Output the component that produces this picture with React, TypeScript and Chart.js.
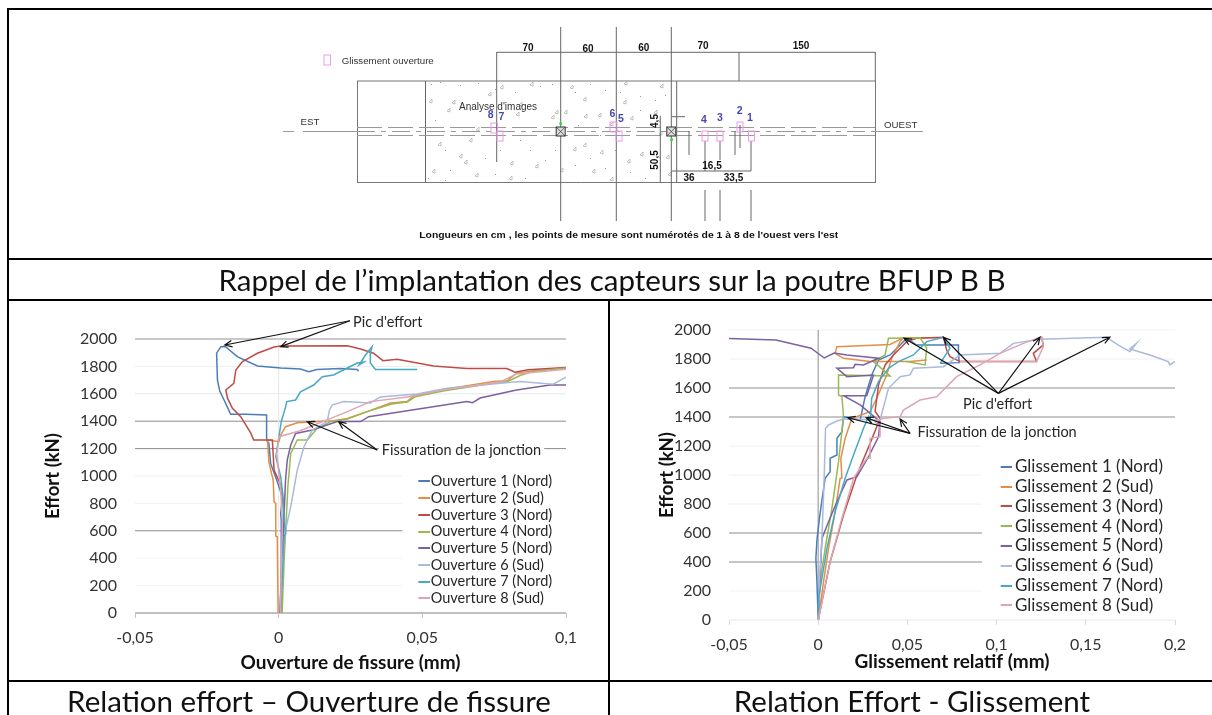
import React, { useEffect, useRef } from "react";
import { Chart, registerables } from "chart.js";

Chart.register(...registerables);

type Pt = [number, number];

const FONT = "Lato";
const seriesColors = ["#4A7EBB", "#E48E4A", "#BE4B48", "#98B954", "#7D60A0", "#A9BADB", "#46AAC4", "#DDA6B2"];

const yTicks = [0, 200, 400, 600, 800, 1000, 1200, 1400, 1600, 1800, 2000];

const ouvertureNames = ["Ouverture 1 (Nord)", "Ouverture 2 (Sud)", "Ouverture 3 (Nord)", "Ouverture 4 (Nord)", "Ouverture 5 (Nord)", "Ouverture 6 (Sud)", "Ouverture 7 (Nord)", "Ouverture 8 (Sud)"];
const glissementNames = ["Glissement 1 (Nord)", "Glissement 2 (Sud)", "Glissement 3 (Nord)", "Glissement 4 (Nord)", "Glissement 5 (Nord)", "Glissement 6 (Sud)", "Glissement 7 (Nord)", "Glissement 8 (Sud)"];

const ouverture1: Pt[] = [[0.0005, 0], [0.0009, 314], [0.0009, 679], [0.0007, 720], [0.0013, 849], [-0.0007, 971], [-0.0028, 1092], [-0.0034, 1238], [-0.0042, 1260], [-0.0042, 1420], [-0.0042, 1445], [-0.0115, 1450], [-0.0167, 1450], [-0.019, 1555], [-0.0205, 1620], [-0.0213, 1700], [-0.0216, 1897], [-0.0201, 1944], [-0.0186, 1945], [-0.0144, 1871], [-0.0074, 1803], [0.0007, 1788], [0.0076, 1781], [0.0105, 1761], [0.0133, 1777], [0.0215, 1785], [0.0273, 1777], [0.0278, 1765]];
const ouverture2: Pt[] = [[-0.0002, 0], [-0.0005, 557], [-0.001, 560], [-0.001, 800], [-0.0016, 813], [-0.0019, 971], [-0.0025, 1019], [-0.0034, 1105], [-0.0039, 1263], [0.0001, 1250], [0.0007, 1299], [0.0024, 1360], [0.0065, 1389], [0.0191, 1404], [0.0239, 1420], [0.0308, 1470], [0.0389, 1533], [0.0447, 1543], [0.0469, 1584], [0.0563, 1628], [0.0747, 1689], [0.0795, 1695], [0.0828, 1751], [0.0887, 1769], [0.1, 1788]];
const ouverture3: Pt[] = [[0.0007, 0], [0.0013, 435], [0.0019, 679], [0.0013, 886], [0.0005, 946], [-0.0016, 1044], [-0.0022, 1263], [-0.0087, 1262], [-0.0097, 1313], [-0.0132, 1433], [-0.0161, 1494], [-0.0178, 1568], [-0.0184, 1628], [-0.0156, 1677], [-0.0149, 1774], [-0.0126, 1835], [-0.0074, 1896], [-0.0016, 1942], [0.0007, 1949], [0.0239, 1950], [0.0285, 1927], [0.033, 1896], [0.0363, 1842], [0.0412, 1852], [0.0539, 1803], [0.0655, 1785], [0.0794, 1785], [0.0823, 1757], [0.0868, 1775], [0.1, 1792]];
const ouverture4: Pt[] = [[0.0012, 0], [0.0019, 387], [0.0024, 581], [0.0032, 922], [0.0042, 1165], [0.0065, 1263], [0.01, 1263], [0.0134, 1348], [0.0181, 1397], [0.0239, 1416], [0.0308, 1470], [0.0394, 1525], [0.0447, 1540], [0.0475, 1578], [0.0572, 1620], [0.0757, 1680], [0.0795, 1688], [0.0842, 1735], [0.0887, 1765], [0.1, 1788]];
const ouverture5: Pt[] = [[0.0005, 0], [0.0009, 265], [0.0016, 581], [0.0021, 825], [0.0024, 971], [0.003, 1117], [0.0042, 1226], [0.0059, 1311], [0.0117, 1336], [0.0204, 1397], [0.0285, 1397], [0.0313, 1433], [0.0655, 1543], [0.0675, 1535], [0.0701, 1569], [0.0828, 1628], [0.0944, 1664], [0.1, 1664]];
const ouverture6: Pt[] = [[0.0007, 217], [0.0024, 606], [0.0042, 776], [0.0065, 1044], [0.0088, 1214], [0.0117, 1336], [0.0169, 1397], [0.0177, 1482], [0.0186, 1518], [0.0226, 1543], [0.0319, 1533], [0.0354, 1577], [0.0482, 1599], [0.0586, 1640], [0.0771, 1677], [0.084, 1689], [0.0955, 1670], [0.1, 1722]];
const ouverture7: Pt[] = [[0.0007, 0], [0.0019, 557], [0.0024, 581], [0.0019, 703], [0.0013, 886], [0.0007, 995], [-0.001, 1141], [0.0001, 1287], [0.0009, 1397], [0.0024, 1503], [0.0028, 1543], [0.0059, 1555], [0.0076, 1615], [0.0122, 1664], [0.0152, 1725], [0.0191, 1737], [0.0239, 1788], [0.0273, 1825], [0.0297, 1832], [0.028, 1810], [0.0302, 1883], [0.0325, 1944], [0.0319, 1896], [0.0319, 1825], [0.0337, 1777], [0.0482, 1777]];
const ouverture8: Pt[] = [[0.0006, 0], [0.0009, 314], [0.0013, 679], [0.0007, 898], [-0.0007, 1165], [0.0001, 1287], [0.0075, 1330], [0.0181, 1421], [0.0239, 1470], [0.0319, 1543], [0.0447, 1577], [0.0563, 1625], [0.0771, 1686], [0.0828, 1745], [0.1, 1780]];

const glissement1: Pt[] = [[0, 0], [-0.0007, 264], [-0.0013, 425], [-0.0007, 552], [0.0007, 701], [0.0021, 828], [0.0039, 977], [0.0067, 1023], [0.0067, 1115], [0.0105, 1138], [0.0105, 1253], [0.0133, 1299], [0.0142, 1402], [0.0235, 1379], [0.0263, 1540], [0.03, 1690], [0.0338, 1793], [0.0403, 1828], [0.0459, 1897], [0.0496, 1943], [0.055, 1897], [0.0786, 1897], [0.0786, 1850], [0.079, 1775], [0.0683, 1770]];
const glissement2: Pt[] = [[0, 0], [0.003, 264], [0.0058, 494], [0.0095, 747], [0.0123, 977], [0.0133, 977], [0.0127, 1115], [0.0151, 1253], [0.0189, 1391], [0.0291, 1437], [0.0328, 1529], [0.0384, 1690], [0.0412, 1805], [0.0459, 1920], [0.0478, 1947], [0.0674, 1947], [0.0478, 1947], [0.0403, 1900], [0.0105, 1885], [0.0095, 1839], [0.0142, 1805], [0.0291, 1782], [0.0515, 1782], [0.0608, 1793]];
const glissement3: Pt[] = [[0, 0], [0.0067, 402], [0.0142, 724], [0.0217, 1000], [0.0291, 1218], [0.0347, 1391], [0.0319, 1440], [0.0338, 1621], [0.0375, 1759], [0.0422, 1828], [0.0496, 1920], [0.0552, 1943], [0.0702, 1950], [0.072, 1862], [0.0739, 1816], [0.0795, 1782], [0.1224, 1782], [0.1206, 1839], [0.1262, 1897], [0.1252, 1950]];
const glissement4: Pt[] = [[0, 0], [0.0011, 264], [0.0039, 494], [0.0077, 770], [0.0114, 1092], [0.0142, 1402], [0.0133, 1540], [0.0114, 1552], [0.0114, 1690], [0.0403, 1683], [0.031, 1782], [0.0375, 1828], [0.0394, 1943], [0.0571, 1947], [0.0608, 1874], [0.0599, 1759], [0.0496, 1782]];
const glissement5: Pt[] = [[0, 34], [0.0021, 563], [0.0058, 678], [0.0105, 816], [0.0161, 966], [0.0217, 989], [0.0282, 1126], [0.0338, 1264], [0.0347, 1368], [0.0235, 1483], [0.0142, 1547], [0.0272, 1547], [0.031, 1690], [0.0161, 1678], [0.0105, 1736], [0.0198, 1740], [0.0207, 1763], [0.0254, 1759], [0.0338, 1805], [0.0161, 1828], [0.009, 1841], [0.0034, 1807], [-0.004, 1874], [-0.0237, 1931], [-0.05, 1942]];
const glissement6: Pt[] = [[0, 0], [0.0007, 264], [0.0021, 563], [0.0034, 1000], [0.0041, 1322], [0.0058, 1345], [0.0105, 1372], [0.0142, 1386], [0.0347, 1379], [0.0394, 1598], [0.0459, 1678], [0.0515, 1690], [0.0534, 1736], [0.0702, 1747], [0.0795, 1828], [0.1019, 1839], [0.1094, 1908], [0.1243, 1936], [0.1616, 1950], [0.168, 1897], [0.1747, 1851], [0.1784, 1908], [0.1747, 1870], [0.1859, 1828], [0.1962, 1782], [0.1971, 1759], [0.1999, 1782]];
const glissement7: Pt[] = [[0, 0], [0.0002, 150], [0.0049, 494], [0.0095, 747], [0.0151, 977], [0.0198, 1138], [0.0254, 1322], [0.0282, 1402], [0.0291, 1368], [0.03, 1529], [0.0338, 1644], [0.0394, 1736], [0.045, 1782], [0.0534, 1828], [0.0608, 1920], [0.0702, 1950], [0.0739, 1874], [0.0683, 1770]];
const glissement8: Pt[] = [[0, 0], [0.0067, 402], [0.0133, 701], [0.0198, 977], [0.0272, 1115], [0.0291, 1115], [0.0291, 1253], [0.0347, 1264], [0.0347, 1322], [0.0319, 1368], [0.0366, 1391], [0.0459, 1402], [0.0478, 1448], [0.0571, 1517], [0.0664, 1540], [0.0776, 1678], [0.0907, 1759], [0.1019, 1839], [0.115, 1908], [0.1252, 1954], [0.1262, 1885], [0.1224, 1782], [0.0795, 1782]];

const ouvertureSeries = [ouverture1, ouverture2, ouverture3, ouverture4, ouverture5, ouverture6, ouverture7, ouverture8];
const glissementSeries = [glissement1, glissement2, glissement3, glissement4, glissement5, glissement6, glissement7, glissement8];

type Note = { text: string; at: Pt; from: Pt; to: Pt[] };
const ouvertureNotes: Note[] = [
  { text: "Pic d'effort", at: [0.0259, 2125], from: [0.0248, 2133], to: [[-0.01875, 1956], [0.0007, 1944]] },
  { text: "Fissuration de la jonction", at: [0.0359, 1184], from: [0.0343, 1190], to: [[0.00997, 1396], [0.0209, 1396]] },
];
const glissementNotes: Note[] = [
  { text: "Pic d'effort", at: [0.0812, 1487], from: [0.101, 1563], to: [[0.04815, 1943], [0.07016, 1950], [0.1243, 1950], [0.1635, 1950]] },
  { text: "Fissuration de la jonction", at: [0.0556, 1295], from: [0.0515, 1287], to: [[0.01663, 1395], [0.02688, 1395], [0.0459, 1386]] },
];

type Rule = [number, string, number, boolean];
const ouvertureRules: Rule[] = [
  [2000, "#c8c8c8", 2, false], [1800, "#eeeeee", 1, false], [1600, "#e8e8e8", 1, false], [1400, "#8c8c8c", 1, false], [1200, "#8c8c8c", 1, false],
  [1000, "#f0f0f0", 1, true], [800, "#f0f0f0", 1, true], [600, "#8c8c8c", 1, true], [400, "#f4f4f4", 1, true], [200, "#f4f4f4", 1, true], [0, "#c0c0c0", 2, false],
];
const glissementRules: Rule[] = [
  [2000, "#f2f2f2", 1, false], [1800, "#f0f0f0", 1, false], [1600, "#b4b4b4", 1.5, false], [1400, "#b4b4b4", 1.5, false], [1200, "#f0f0f0", 1, true],
  [1000, "#f0f0f0", 1, true], [800, "#f0f0f0", 1, true], [600, "#8c8c8c", 1, true], [400, "#8c8c8c", 1, true], [200, "#f2f2f2", 1, true], [0, "#e8e8e8", 1, false],
];

const fmtTick = (v: any) => String(+Number(v).toFixed(2)).replace(".", ",");
const fmtY = (v: any) => String(v);

function lineSwatch(color: string, w: number) {
  const c = document.createElement("canvas");
  c.width = w;
  c.height = 2;
  const g = c.getContext("2d")!;
  g.fillStyle = color;
  g.fillRect(0, 0, w, 2);
  return c;
}

type Cfg = {
  series: Pt[][];
  names: string[];
  rules: Rule[];
  notes: Note[];
  xMin: number;
  xMax: number;
  shortEnd: number;
  xTitle: string;
  left: number;
  right: number;
  top: number;
  bottom: number;
  titleLeftPad: number;
  titleBottomPad: number;
  zeroColor: string;
  zeroWidth: number;
  legendLeft: number;
  legendTop: number;
  legendFont: number;
  legendPad: number;
  swatch: number;
  tickColor: string;
};

function makeChart(canvas: HTMLCanvasElement, c: Cfg) {
  const layoutPlugin = {
    id: "placeLegendAndRules",
    afterLayout(chart: any) {
      const l = chart.legend;
      if (!l) return;
      l.left = c.legendLeft;
      l.top = c.legendTop;
      l.right = chart.width;
      l.bottom = chart.height;
    },
    beforeDraw(chart: any) {
      const { ctx, scales } = chart;
      const x = scales.x;
      const y = scales.y;
      ctx.save();
      for (const [value, color, width, short] of c.rules) {
        const py = y.getPixelForValue(value);
        ctx.strokeStyle = color;
        ctx.lineWidth = width;
        ctx.beginPath();
        ctx.moveTo(x.getPixelForValue(c.xMin), py);
        ctx.lineTo(x.getPixelForValue(short ? c.shortEnd : c.xMax), py);
        ctx.stroke();
      }
      ctx.strokeStyle = c.zeroColor;
      ctx.lineWidth = c.zeroWidth;
      ctx.beginPath();
      ctx.moveTo(x.getPixelForValue(0), y.getPixelForValue(2000));
      ctx.lineTo(x.getPixelForValue(0), y.getPixelForValue(0));
      ctx.stroke();
      ctx.restore();
    },
    afterDatasetsDraw(chart: any) {
      const { ctx, scales } = chart;
      const X = (v: number) => scales.x.getPixelForValue(v);
      const Y = (v: number) => scales.y.getPixelForValue(v);
      ctx.save();
      ctx.font = `14.5px ${FONT}`;
      ctx.textBaseline = "middle";
      for (const n of c.notes) {
        const tw = ctx.measureText(n.text).width;
        ctx.fillStyle = "#fff";
        ctx.fillRect(X(n.at[0]) - 3, Y(n.at[1]) - 9, tw + 6, 18);
        ctx.fillStyle = "#262626";
        ctx.fillText(n.text, X(n.at[0]), Y(n.at[1]));
        ctx.strokeStyle = "#111";
        ctx.lineWidth = 1.2;
        for (const t of n.to) {
          const x0 = X(n.from[0]), y0 = Y(n.from[1]), x1 = X(t[0]), y1 = Y(t[1]);
          const a = Math.atan2(y1 - y0, x1 - x0);
          ctx.beginPath();
          ctx.moveTo(x0, y0);
          ctx.lineTo(x1, y1);
          ctx.moveTo(x1 - 8 * Math.cos(a - 0.42), y1 - 8 * Math.sin(a - 0.42));
          ctx.lineTo(x1, y1);
          ctx.lineTo(x1 - 8 * Math.cos(a + 0.42), y1 - 8 * Math.sin(a + 0.42));
          ctx.stroke();
        }
      }
      ctx.restore();
    },
  };

  return new Chart(canvas, {
    type: "scatter",
    data: {
      datasets: c.series.map((s, i) => ({
        label: c.names[i],
        data: s.map(([x, y]) => ({ x, y })),
        showLine: true,
        borderColor: seriesColors[i],
        backgroundColor: seriesColors[i],
        borderWidth: 1.5,
        pointRadius: 0,
        tension: 0,
        order: 8 - i,
      })),
    },
    options: {
      animation: false,
      responsive: false,
      devicePixelRatio: 1,
      layout: { padding: { left: 0, top: c.top, right: c.right, bottom: 0 } },
      plugins: {
        tooltip: { enabled: false },
        legend: {
          display: true,
          position: "chartArea",
          align: "start",
          labels: {
            usePointStyle: true,
            boxWidth: 3,
            padding: c.legendPad,
            font: { family: FONT, size: c.legendFont },
            generateLabels: (chart: any) =>
              chart.data.datasets.map((d: any, i: number) => ({
                text: d.label,
                pointStyle: lineSwatch(seriesColors[i], c.swatch),
                fillStyle: seriesColors[i],
                strokeStyle: seriesColors[i],
                lineWidth: 0,
                fontColor: "#262626",
                hidden: false,
                datasetIndex: i,
              })),
          },
        },
      },
      scales: {
        x: {
          type: "linear",
          min: c.xMin,
          max: c.xMax,
          border: { display: false },
          grid: { drawOnChartArea: false, drawTicks: true, tickLength: 5, color: c.tickColor },
          ticks: { stepSize: 0.05, maxRotation: 0, padding: 10, color: "#333", font: { family: FONT, size: 16 }, callback: fmtTick },
          title: { display: true, text: c.xTitle, color: "#111", font: { family: FONT, size: 19, weight: "bold" }, padding: { top: 0, bottom: c.titleBottomPad } },
          afterFit: (s: any) => { s.height = c.bottom; },
        },
        y: {
          type: "linear",
          min: 0,
          max: 2000,
          afterBuildTicks: (s: any) => { s.ticks = yTicks.map((value) => ({ value })); },
          border: { display: false },
          grid: { display: false, drawTicks: false },
          ticks: { padding: 18, color: "#333", font: { family: FONT, size: 16 }, callback: fmtY },
          title: { display: true, text: "Effort (kN)", color: "#111", font: { family: FONT, size: 18.5, weight: "bold" }, padding: { top: c.titleLeftPad, bottom: 0 } },
          afterFit: (s: any) => { s.width = c.left; },
        },
      },
    },
    plugins: [layoutPlugin],
  } as any);
}

const triangles: Pt[] = [[429, 102], [452, 103], [447, 111], [488, 95], [519, 105], [516, 115], [551, 118], [555, 113], [583, 100], [564, 113], [584, 117], [598, 116], [610, 125], [476, 130], [438, 145], [469, 141], [459, 157], [464, 163], [510, 164], [535, 167], [432, 172], [475, 176], [509, 179], [560, 171], [583, 146], [573, 150], [600, 153], [592, 172], [627, 162], [610, 180], [624, 84], [660, 87], [623, 103], [630, 119], [654, 113], [659, 134], [640, 155], [666, 158], [668, 175], [570, 88], [530, 85], [500, 88]];
const specks: Pt[] = [[431, 84], [440, 82], [460, 85], [478, 83], [495, 89], [515, 92], [540, 86], [552, 84], [575, 92], [590, 84], [605, 90], [620, 92], [640, 96], [655, 100], [665, 95], [435, 120], [445, 150], [450, 170], [470, 110], [485, 158], [500, 150], [520, 140], [530, 150], [545, 160], [555, 150], [575, 165], [590, 158], [600, 135], [615, 150], [630, 172], [645, 178], [660, 170], [428, 178], [445, 180], [495, 174], [525, 178], [580, 182], [605, 168], [640, 110], [578, 125]];

const pinkBoxes: [string, number, number, number, number, number, number][] = [
  ["8", 491, 123, 490.7, 118, 6.5, 10],
  ["7", 497, 131, 501.5, 120, 6, 10],
  ["6", 610, 122, 612.3, 117, 7, 10],
  ["5", 616, 131, 621, 122, 6, 10],
  ["4", 702, 131, 704, 123, 6, 10],
  ["3", 717, 131, 720, 121, 6, 10],
  ["2", 737, 122, 739.7, 114, 6, 10],
  ["1", 748.5, 131, 750, 121, 6, 10],
];

function Schematic() {
  const dim = { stroke: "#666", strokeWidth: 1 };
  const bold = { fontFamily: "Liberation Sans", fontWeight: 700, fontSize: 10, fill: "#111", textAnchor: "middle" as const };
  const plain = { fontFamily: "Liberation Sans", fontSize: 9.7, fill: "#333" };
  return (
    <svg width={1212} height={255} style={{ position: "absolute", left: 0, top: 0, filter: "blur(0.35px)" }}>
      <rect x={357.5} y={81} width={518} height={101.5} fill="none" stroke="#777" strokeWidth={1} />
      <line x1={425.5} y1={81} x2={425.5} y2={182.5} stroke="#666" />
      <line x1={676.7} y1={81} x2={676.7} y2={182.5} stroke="#666" />
      {triangles.map(([x, y], i) => (
        <path key={i} d={`M${x} ${y}l3 -3l0 4z`} fill="none" stroke="#aaa" strokeWidth={0.7} />
      ))}
      {specks.map(([x, y], i) => (
        <rect key={i} x={x} y={y} width={1} height={1} fill="#999" />
      ))}
      <line x1={357} y1={127.5} x2={875} y2={127.5} stroke="#999" strokeDasharray="25 6" />
      <line x1={357} y1={131.5} x2={875} y2={131.5} stroke="#999" strokeDasharray="18 6 5 6" />
      <line x1={357} y1={135.5} x2={875} y2={135.5} stroke="#999" strokeDasharray="25 6" />
      <line x1={283} y1={131.5} x2={357} y2={131.5} stroke="#999" strokeDasharray="11 9 52 0" />
      <line x1={875} y1={131.5} x2={923} y2={131.5} stroke="#999" />
      <line x1={496.7} y1={52.3} x2={875.3} y2={52.3} {...dim} />
      <line x1={496.7} y1={52} x2={496.7} y2={162} {...dim} />
      <line x1={560.7} y1={27} x2={560.7} y2={221} {...dim} />
      <line x1={616.3} y1={27} x2={616.3} y2={221} {...dim} />
      <line x1={671.3} y1={27} x2={671.3} y2={221} {...dim} />
      <line x1={739} y1={52} x2={739} y2={81} {...dim} />
      <line x1={875.3} y1={52} x2={875.3} y2={81} {...dim} />
      <line x1={660.3} y1={116} x2={660.3} y2={182} {...dim} />
      <line x1={672} y1={116.7} x2={685} y2={116.7} {...dim} />
      <line x1={689} y1={131} x2={689} y2={155} {...dim} />
      <line x1={735} y1={131} x2={735} y2={155} {...dim} />
      <line x1={740} y1={125} x2={740} y2={148} {...dim} />
      <line x1={705} y1={141} x2={705} y2={171} {...dim} />
      <line x1={720} y1={141} x2={720} y2={160} {...dim} />
      <line x1={751} y1={141} x2={751} y2={171} {...dim} />
      <line x1={705} y1={190} x2={705} y2={221} {...dim} />
      <line x1={720} y1={190} x2={720} y2={221} {...dim} />
      <line x1={751} y1={190} x2={751} y2={221} {...dim} />
      <line x1={671.7} y1={171} x2={751} y2={171} {...dim} />
      {[560.7, 671.3].map((x) => (
        <g key={x}>
          <rect x={x - 4.5} y={127} width={9} height={9} fill="#ddd" stroke="#333" />
          <path d={`M${x - 4.5} 127l9 9M${x + 4.5} 127l-9 9`} stroke="#333" strokeWidth={0.7} />
        </g>
      ))}
      <circle cx={560.7} cy={123.5} r={1.6} fill="#2EE02E" />
      <circle cx={671.7} cy={139.5} r={1.6} fill="#2EE02E" />
      <rect x={324} y={55} width={6.5} height={10} fill="none" stroke="#EE99EE" />
      {pinkBoxes.map(([label, rx, ry, tx, ty, w, h]) => (
        <g key={label}>
          <rect x={rx} y={ry} width={w} height={h} fill="none" stroke="#EE99EE" />
          <text x={tx} y={ty} textAnchor="middle" fontFamily="Liberation Sans" fontWeight={700} fontSize={10.5} fill="#4646B4">{label}</text>
        </g>
      ))}
      <text x={528} y={51} {...bold}>70</text>
      <text x={588} y={52} {...bold}>60</text>
      <text x={643.7} y={51} {...bold}>60</text>
      <text x={703} y={49} {...bold}>70</text>
      <text x={801} y={49} {...bold}>150</text>
      <text x={712} y={169} {...bold}>16,5</text>
      <text x={689} y={181} {...bold}>36</text>
      <text x={733.5} y={181} {...bold}>33,5</text>
      <text transform="translate(658,121) rotate(-90)" {...bold}>4,5</text>
      <text transform="translate(658,160) rotate(-90)" {...bold}>50,5</text>
      <text x={300.5} y={125} {...plain}>EST</text>
      <text x={884} y={128} {...plain}>OUEST</text>
      <text x={341.7} y={64} {...plain}>Glissement ouverture</text>
      <text x={459} y={110} {...plain} fontSize={10}>Analyse d'images</text>
      <text x={628.7} y={238} fontFamily="Liberation Sans" fontWeight={700} fontSize={9} fill="#111" textAnchor="middle" textLength={419} lengthAdjust="spacingAndGlyphs">
        Longueurs en cm , les points de mesure sont numérotés de 1 à 8 de l'ouest vers l'est
      </text>
    </svg>
  );
}

const rule = (x: number, y: number, w: number, h: number): React.CSSProperties => ({ position: "absolute", left: x, top: y, width: w, height: h, background: "#000" });
const caption = (cx: number, cy: number, size: number): React.CSSProperties => ({
  position: "absolute",
  left: cx - 500,
  width: 1000,
  top: cy - 20,
  height: 40,
  lineHeight: "40px",
  textAlign: "center",
  fontFamily: FONT,
  fontSize: size,
  color: "#111",
  whiteSpace: "nowrap",
});

export default function App() {
  const leftRef = useRef<HTMLCanvasElement>(null);
  const rightRef = useRef<HTMLCanvasElement>(null);

  useEffect(() => {
    const left = makeChart(leftRef.current!, {
      series: ouvertureSeries,
      names: ouvertureNames,
      rules: ouvertureRules,
      notes: ouvertureNotes,
      xMin: -0.05,
      xMax: 0.1,
      shortEnd: 0.0431,
      xTitle: "Ouverture de fissure (mm)",
      left: 126,
      right: 42,
      top: 39,
      bottom: 68,
      titleLeftPad: 32.6,
      titleBottomPad: 6.9,
      zeroColor: "#e6e6e6",
      zeroWidth: 1,
      legendLeft: 409.3,
      legendTop: 172,
      legendFont: 14.5,
      legendPad: 2.2,
      swatch: 15,
      tickColor: "#c4c4c4",
    });
    const right = makeChart(rightRef.current!, {
      series: glissementSeries,
      names: glissementNames,
      rules: glissementRules,
      notes: glissementNotes,
      xMin: -0.05,
      xMax: 0.2,
      shortEnd: 0.0918,
      xTitle: "Glissement relatif (mm)",
      left: 119,
      right: 37,
      top: 30,
      bottom: 61,
      titleLeftPad: 45.6,
      titleBottomPad: 7.9,
      zeroColor: "#b4b4b4",
      zeroWidth: 1.5,
      legendLeft: 390.7,
      legendTop: 155.4,
      legendFont: 17,
      legendPad: 2.8,
      swatch: 14,
      tickColor: "#d8d8d8",
    });
    return () => {
      left.destroy();
      right.destroy();
    };
  }, []);

  return (
    <div style={{ position: "absolute", left: 0, top: 0, width: 1212, height: 715, overflow: "hidden", background: "#fff" }}>
      <Schematic />
      <canvas ref={leftRef} width={599} height={381} style={{ position: "absolute", left: 9, top: 300, width: 599, height: 381, filter: "blur(0.35px)" }} />
      <canvas ref={rightRef} width={602} height={381} style={{ position: "absolute", left: 610, top: 300, width: 602, height: 381, filter: "blur(0.35px)" }} />
      <div style={rule(7, 8, 1205, 2)} />
      <div style={rule(7, 258, 1205, 2)} />
      <div style={rule(7, 299, 1205, 2)} />
      <div style={rule(7, 680, 1205, 2)} />
      <div style={rule(7, 8, 2, 707)} />
      <div style={rule(608, 299, 2, 416)} />
      <div style={caption(612, 280, 29.5)}>Rappel de l’implantation des capteurs sur la poutre BFUP B B</div>
      <div style={caption(309, 701, 29.5)}>Relation effort – Ouverture de fissure</div>
      <div style={caption(912, 701, 29.5)}>Relation Effort - Glissement</div>
    </div>
  );
}
